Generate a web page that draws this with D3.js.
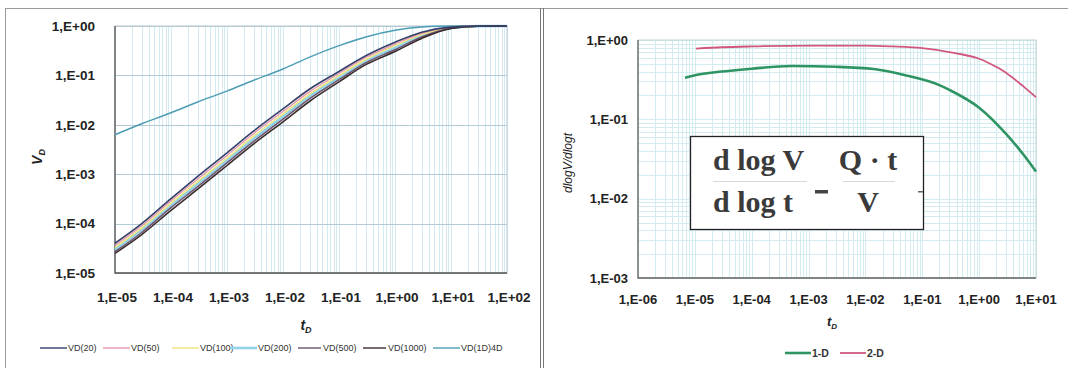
<!DOCTYPE html>
<html>
<head>
<meta charset="utf-8">
<script src="https://cdn.jsdelivr.net/npm/d3@7"></script>
<style>
  html, body { margin: 0; padding: 0; background: #fff; }
  svg { display: block; font-family: "Liberation Sans", Arial, sans-serif; }
</style>
</head>
<body>
<svg id="chart" width="1073" height="368"></svg>
<script>
// ---- Left panel: dimensionless volume V_D versus t_D ----
const tLeft = [1e-5, 3e-5, 1e-4, 3e-4, 1e-3, 3e-3, 1e-2, 3e-2, 0.1, 0.3, 1, 3, 10, 30, 100];
const vd20   = [4.0e-5, 1.0e-4, 3.2e-4, 9.0e-4, 2.7e-3, 7.5e-3, 2.1e-2, 5.3e-2, 0.12, 0.25, 0.47, 0.75, 0.95, 0.995, 1.0];
const vd50   = [3.6e-5, 9.0e-5, 2.9e-4, 8.0e-4, 2.4e-3, 6.7e-3, 1.86e-2, 4.7e-2, 0.109, 0.23, 0.43, 0.71, 0.94, 0.994, 1.0];
const vd100  = [3.3e-5, 8.1e-5, 2.6e-4, 7.1e-4, 2.1e-3, 5.9e-3, 1.65e-2, 4.2e-2, 0.099, 0.21, 0.40, 0.67, 0.925, 0.993, 1.0];
const vd200  = [3.0e-5, 7.4e-5, 2.3e-4, 6.4e-4, 1.9e-3, 5.2e-3, 1.47e-2, 3.8e-2, 0.090, 0.195, 0.36, 0.63, 0.91, 0.992, 1.0];
const vd500  = [2.7e-5, 6.6e-5, 2.1e-4, 5.6e-4, 1.7e-3, 4.6e-3, 1.3e-2, 3.4e-2, 0.082, 0.18, 0.33, 0.60, 0.90, 0.99, 1.0];
const vd1000 = [2.5e-5, 6.0e-5, 1.85e-4, 5.0e-4, 1.5e-3, 4.1e-3, 1.15e-2, 3.0e-2, 0.074, 0.165, 0.305, 0.56, 0.89, 0.99, 1.0];
const vd1D   = [6.3e-3, 1.05e-2, 1.75e-2, 2.9e-2, 4.8e-2, 8.0e-2, 0.135, 0.235, 0.40, 0.60, 0.82, 0.95, 0.995, 1.0, 1.0];

const leftNames  = ["VD(20)", "VD(50)", "VD(100)", "VD(200)", "VD(500)", "VD(1000)", "VD(1D)4D"];
const leftColors = ["#34406a", "#e995ab", "#ece57a", "#93d3ea", "#6c516e", "#3b2d2c", "#4c9db3"];
const leftWidths = [1.6, 1.3, 1.5, 2.6, 1.5, 1.6, 1.5];

const leftXTickVals = [1e-5, 1e-4, 1e-3, 1e-2, 1e-1, 1e0, 1e1, 1e2];
const leftXTickText = ["1,E-05", "1,E-04", "1,E-03", "1,E-02", "1,E-01", "1,E+00", "1,E+01", "1,E+02"];
const leftYTickVals = [1e-5, 1e-4, 1e-3, 1e-2, 1e-1, 1e0];
const leftYTickText = ["1,E-05", "1,E-04", "1,E-03", "1,E-02", "1,E-01", "1,E+00"];

// ---- Right panel: log-derivative dlogV/dlogt versus t_D ----
const t1D  = [6.7e-6, 1e-5, 3e-5, 1e-4, 5e-4, 3e-3, 1.4e-2, 5e-2, 0.2, 0.3, 1, 3, 6, 10];
const der1D = [0.335, 0.36, 0.40, 0.435, 0.47, 0.46, 0.43, 0.36, 0.27, 0.235, 0.14, 0.065, 0.036, 0.022];
const t2D  = [1.05e-5, 3e-5, 1e-4, 1e-3, 1e-2, 3e-2, 0.1, 0.4, 1, 1.5, 2.5, 4, 6, 10];
const der2D = [0.78, 0.81, 0.83, 0.85, 0.85, 0.83, 0.79, 0.68, 0.58, 0.51, 0.42, 0.33, 0.26, 0.19];

const rightNames  = ["1-D", "2-D"];
const rightColors = ["#2f9463", "#d2577f"];

const rightXTickVals = [1e-6, 1e-5, 1e-4, 1e-3, 1e-2, 1e-1, 1e0, 1e1];
const rightXTickText = ["1,E-06", "1,E-05", "1,E-04", "1,E-03", "1,E-02", "1,E-01", "1,E+00", "1,E+01"];
const rightYTickVals = [1e-3, 1e-2, 1e-1, 1e0];
const rightYTickText = ["1,E-03", "1,E-02", "1,E-01", "1,E+00"];

const svg = d3.select("#chart");

// outer frames of the two panels
const frame = svg.append("g").attr("fill", "none").attr("stroke", "#9a9a9a").attr("stroke-width", 1);
frame.append("line").attr("x1", 5).attr("x2", 1068).attr("y1", 8.5).attr("y2", 8.5);
frame.append("line").attr("x1", 5.5).attr("x2", 5.5).attr("y1", 8).attr("y2", 368);
frame.append("line").attr("x1", 540.5).attr("x2", 540.5).attr("y1", 8).attr("y2", 368).attr("stroke", "#777");
frame.append("line").attr("x1", 543.5).attr("x2", 543.5).attr("y1", 8).attr("y2", 368).attr("stroke", "#777");

function minorValues(lo, hi) {
  const out = [];
  for (let e = Math.round(Math.log10(lo)); e < Math.round(Math.log10(hi)); e++) {
    for (let k = 1; k <= 9; k++) out.push(k * Math.pow(10, e));
  }
  out.push(hi);
  return out;
}

// ================= LEFT PANEL =================
{
  const x = d3.scaleLog().domain([1e-5, 1e2]).range([115, 507]);
  const y = d3.scaleLog().domain([1e-5, 1e0]).range([273, 26]);
  const g = svg.append("g");

  // vertical minor grid
  g.append("g").selectAll("line").data(minorValues(1e-5, 1e2)).join("line")
    .attr("x1", d => Math.round(x(d)) + 0.5).attr("x2", d => Math.round(x(d)) + 0.5)
    .attr("y1", y(1e0)).attr("y2", y(1e-5))
    .attr("stroke", "#d2ebf3").attr("stroke-width", 1);
  // horizontal major grid
  g.append("g").selectAll("line").data(leftYTickVals).join("line")
    .attr("x1", x(1e-5)).attr("x2", x(1e2))
    .attr("y1", d => Math.round(y(d)) + 0.5).attr("y2", d => Math.round(y(d)) + 0.5)
    .attr("stroke", "#b3cbd6").attr("stroke-width", 1);
  // plot frame
  g.append("rect").attr("x", x(1e-5)).attr("y", y(1e0))
    .attr("width", x(1e2) - x(1e-5)).attr("height", y(1e-5) - y(1e0))
    .attr("fill", "none").attr("stroke", "#bcc9cf");
  g.append("path").attr("d", `M${x(1e-5)},${y(1e0)}V${y(1e-5)}H${x(1e2)}`)
    .attr("fill", "none").attr("stroke", "#555").attr("stroke-width", 1.3);

  const series = [vd20, vd50, vd100, vd200, vd500, vd1000, vd1D];
  const line = d3.line().x((d, i) => x(tLeft[i])).y(d => y(d)).curve(d3.curveMonotoneX);
  // draw the wide light-blue curve first so thinner ones sit on top of it
  const order = [3, 6, 2, 1, 4, 5, 0];
  order.forEach(k => {
    g.append("path").datum(series[k]).attr("d", line)
      .attr("fill", "none").attr("stroke", leftColors[k]).attr("stroke-width", leftWidths[k])
      .attr("stroke-linejoin", "round");
  });

  // axes labels
  g.append("g").selectAll("text").data(leftYTickVals).join("text")
    .attr("x", 95).attr("y", d => y(d)).attr("dy", "0.36em")
    .attr("text-anchor", "end").attr("font-size", 13.5).attr("fill", "#222")
    .attr("font-weight", "bold")
    .text((d, i) => leftYTickText[i]);
  g.append("g").selectAll("text").data(leftXTickVals).join("text")
    .attr("x", d => x(d) + 2).attr("y", 302)
    .attr("text-anchor", "middle").attr("font-size", 13.5).attr("fill", "#222")
    .attr("font-weight", "bold")
    .text((d, i) => leftXTickText[i]);

  // axis titles
  const yt = g.append("text").attr("transform", "translate(42,157) rotate(-90)")
    .attr("text-anchor", "middle").attr("font-size", 14).attr("font-weight", "bold")
    .attr("font-style", "italic").attr("fill", "#222");
  yt.append("tspan").text("V");
  yt.append("tspan").attr("font-size", 9).attr("dy", 3).text("D");
  const xt = g.append("text").attr("x", 306).attr("y", 330)
    .attr("text-anchor", "middle").attr("font-size", 14).attr("font-weight", "bold")
    .attr("font-style", "italic").attr("fill", "#222");
  xt.append("tspan").text("t");
  xt.append("tspan").attr("font-size", 9).attr("dy", 3).text("D");

  // legend
  const legX = [40, 103, 172, 230, 298, 363, 433];
  const leg = g.append("g").selectAll("g").data(leftNames).join("g")
    .attr("transform", (d, i) => `translate(${legX[i]},348)`);
  leg.append("line").attr("x1", 0).attr("x2", (d, i) => i === 4 || i === 5 ? 23 : 27)
    .attr("y1", 0).attr("y2", 0)
    .attr("stroke", (d, i) => leftColors[i]).attr("stroke-width", (d, i) => i === 3 ? 2.6 : 1.4);
  leg.append("text").attr("x", (d, i) => i === 4 || i === 5 ? 25 : 28).attr("y", 0).attr("dy", "0.35em")
    .attr("font-size", 9).attr("fill", "#333").text(d => d);
}

// ================= RIGHT PANEL =================
{
  const x = d3.scaleLog().domain([1e-6, 1e1]).range([638, 1036]);
  const y = d3.scaleLog().domain([1e-3, 1e0]).range([278, 40]);
  const g = svg.append("g");

  g.append("g").selectAll("line").data(minorValues(1e-6, 1e1)).join("line")
    .attr("x1", d => Math.round(x(d)) + 0.5).attr("x2", d => Math.round(x(d)) + 0.5)
    .attr("y1", y(1e0)).attr("y2", y(1e-3))
    .attr("stroke", "#d3ecef").attr("stroke-width", 1);
  g.append("g").selectAll("line").data(minorValues(1e-3, 1e0)).join("line")
    .attr("x1", x(1e-6)).attr("x2", x(1e1))
    .attr("y1", d => Math.round(y(d)) + 0.5).attr("y2", d => Math.round(y(d)) + 0.5)
    .attr("stroke", "#d3ecef").attr("stroke-width", 1);
  g.append("rect").attr("x", x(1e-6)).attr("y", y(1e0))
    .attr("width", x(1e1) - x(1e-6)).attr("height", y(1e-3) - y(1e0))
    .attr("fill", "none").attr("stroke", "#c3d3d6");
  g.append("path").attr("d", `M${x(1e-6)},${y(1e0)}V${y(1e-3)}H${x(1e1)}`)
    .attr("fill", "none").attr("stroke", "#666").attr("stroke-width", 1.3);

  const line1 = d3.line().x((d, i) => x(t1D[i])).y(d => y(d)).curve(d3.curveMonotoneX);
  const line2 = d3.line().x((d, i) => x(t2D[i])).y(d => y(d)).curve(d3.curveMonotoneX);
  g.append("path").datum(der2D).attr("d", line2).attr("fill", "none")
    .attr("stroke", rightColors[1]).attr("stroke-width", 1.8);
  g.append("path").datum(der1D).attr("d", line1).attr("fill", "none")
    .attr("stroke", rightColors[0]).attr("stroke-width", 2.6);

  g.append("g").selectAll("text").data(rightYTickVals).join("text")
    .attr("x", 628).attr("y", d => y(d)).attr("dy", "0.36em")
    .attr("text-anchor", "end").attr("font-size", 13).attr("fill", "#222")
    .attr("font-weight", "bold")
    .text((d, i) => rightYTickText[i]);
  g.append("g").selectAll("text").data(rightXTickVals).join("text")
    .attr("x", d => x(d)).attr("y", 304)
    .attr("text-anchor", "middle").attr("font-size", 13).attr("fill", "#222")
    .attr("font-weight", "bold")
    .text((d, i) => rightXTickText[i]);

  g.append("text").attr("transform", "translate(572,163) rotate(-90)")
    .attr("text-anchor", "middle").attr("font-size", 12).attr("font-style", "italic")
    .attr("fill", "#222").text("dlogV/dlogt");
  const xt = g.append("text").attr("x", 832).attr("y", 326)
    .attr("text-anchor", "middle").attr("font-size", 13).attr("font-weight", "bold")
    .attr("font-style", "italic").attr("fill", "#222");
  xt.append("tspan").text("t");
  xt.append("tspan").attr("font-size", 8).attr("dy", 3).text("D");

  const legX = [785, 840];
  const leg = g.append("g").selectAll("g").data(rightNames).join("g")
    .attr("transform", (d, i) => `translate(${legX[i]},353)`);
  leg.append("line").attr("x1", 0).attr("x2", 26).attr("y1", 0).attr("y2", 0)
    .attr("stroke", (d, i) => rightColors[i]).attr("stroke-width", (d, i) => i === 0 ? 2.6 : 1.8);
  leg.append("text").attr("x", 27).attr("y", 0).attr("dy", "0.35em")
    .attr("font-size", 10.5).attr("font-weight", "bold").attr("fill", "#333").text(d => d);

  // formula box
  const fb = g.append("g");
  fb.append("rect").attr("x", 690.5).attr("y", 136.5).attr("width", 233).attr("height", 93)
    .attr("fill", "#fff").attr("stroke", "#222").attr("stroke-width", 1.3);
  const serif = '"Liberation Serif", "Times New Roman", serif';
  const ft = (xx, yy, s, anchor) => fb.append("text").attr("x", xx).attr("y", yy)
    .attr("text-anchor", anchor || "start").style("font-family", serif).attr("font-size", 30)
    .attr("font-weight", "bold").attr("fill", "#3a3a3a").text(s);
  ft(713, 170, "d log V");
  ft(713, 212, "d log t");
  ft(868, 170, "Q · t", "middle");
  ft(868, 212, "V", "middle");
  fb.append("line").attr("x1", 713).attr("x2", 807).attr("y1", 181.5).attr("y2", 181.5)
    .attr("stroke", "#d8d8d8").attr("stroke-width", 1);
  fb.append("line").attr("x1", 843).attr("x2", 895).attr("y1", 181.5).attr("y2", 181.5)
    .attr("stroke", "#d8d8d8").attr("stroke-width", 1);
  fb.append("rect").attr("x", 815).attr("y", 190).attr("width", 13).attr("height", 3.5).attr("fill", "#444");
  fb.append("rect").attr("x", 918).attr("y", 191).attr("width", 5).attr("height", 1.5).attr("fill", "#666");
}
</script>
</body>
</html>
